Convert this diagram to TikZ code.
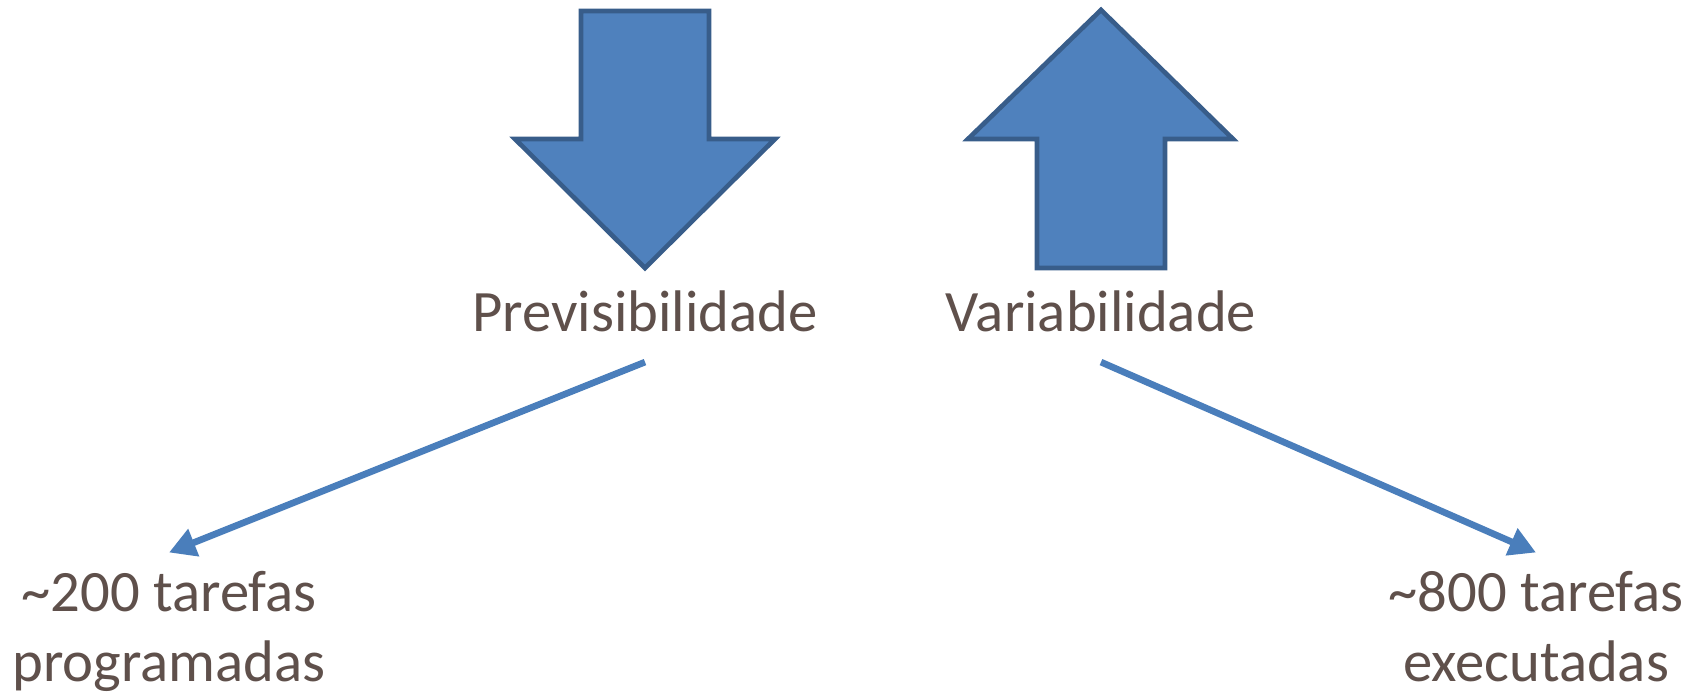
\documentclass[tikz,border=0pt]{standalone}
\usepackage{fontspec}
\setmainfont{Carlito}
\usepackage{xcolor}
\usepackage{tikz}
\usetikzlibrary{arrows.meta}

\definecolor{arrowfill}{RGB}{79,129,189}
\definecolor{arrowline}{RGB}{56,93,138}
\definecolor{linkblue}{RGB}{74,126,187}
\definecolor{textbrown}{RGB}{95,80,75}

\tikzset{
  bigarrow/.style={fill=arrowfill, draw=arrowline, line width=3.5pt, line join=miter},
  label text/.style={text=textbrown, font=\fontsize{44}{52}\selectfont, inner sep=0pt, align=center},
  link/.style={draw=linkblue, line width=5pt, -{Triangle[length=20pt,width=21pt]}}
}

\begin{document}
\begin{tikzpicture}[x=0.75pt,y=-0.75pt]
\useasboundingbox (0,0) rectangle (1693,696);

% the two big block arrows
\draw[bigarrow] (581,11) -- (709,11) -- (709,139) -- (775,139) -- (645,268)
  -- (515,139) -- (581,139) -- cycle;
\draw[bigarrow] (1101,10) -- (1233,139) -- (1165,139) -- (1165,268) -- (1037,268)
  -- (1037,139) -- (968,139) -- cycle;

% texts
\node[label text, anchor=base, outer sep=23pt] (prev) at (645,331) {Previsibilidade};
\node[label text, anchor=base, outer sep=23pt] (var) at (1101,331) {Variabilidade};
\node[label text, anchor=base] (tar200) at (169,681) {\textasciitilde200 tarefas\\programadas};
\node[label text, anchor=base] (tar800) at (1536,681) {\textasciitilde800 tarefas\\executadas};

% links
\draw[link] (prev.south) -- ([yshift=14pt]tar200.north);
\draw[link] (var.south) -- ([yshift=14pt]tar800.north);

\end{tikzpicture}
\end{document}
